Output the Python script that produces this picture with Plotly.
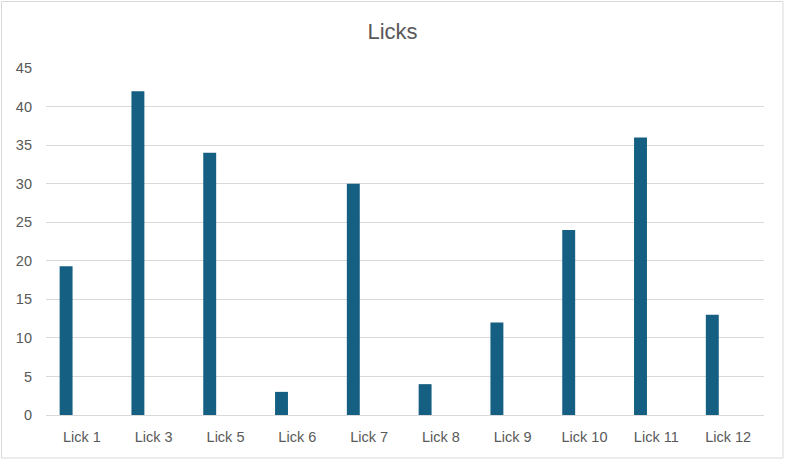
import plotly.graph_objects as go

categories = ["Lick 1", "Lick 3", "Lick 5", "Lick 6", "Lick 7", "Lick 8", "Lick 9", "Lick 10", "Lick 11", "Lick 12"]
values = [19.3, 42, 34, 3, 30, 4, 12, 24, 36, 13]
y_ticks = [0, 5, 10, 15, 20, 25, 30, 35, 40, 45]

W, H = 785, 460
L, R, T, B = 46, 21, 68, 45
pw, ph = W - L - R, H - T - B

fig = go.Figure()
fig.add_trace(go.Bar(
    x=categories, y=values,
    marker=dict(color="#156082", line=dict(width=0)),
    width=0.18, offset=-0.31,
    hoverinfo="x+y",
))

font_family = "Liberation Sans, Arial, sans-serif"

def px_x(p):
    return (p - L) / pw

def px_y(p):
    return (H - B - p) / ph

fig.update_layout(
    width=W, height=H,
    margin=dict(l=L, r=R, t=T, b=B),
    paper_bgcolor="white", plot_bgcolor="white",
    showlegend=False,
    font=dict(family=font_family, size=14.5, color="#595959"),
    title=dict(text="Licks", x=0.5, xanchor="center", y=1 - 31 / H, yanchor="middle",
               yref="container", font=dict(size=22, color="#595959", family=font_family)),
    xaxis=dict(
        type="category", showgrid=False, showline=True, linecolor="#d9d9d9", linewidth=1,
        ticks="", ticklabelstandoff=9, tickfont=dict(size=14.5, color="#595959"),
        range=[-0.5, len(categories) - 0.5], fixedrange=True,
    ),
    yaxis=dict(
        range=[0, 45], tickvals=y_ticks, showgrid=True, gridcolor="#d9d9d9", gridwidth=1,
        zeroline=False, showline=False, ticks="", ticklabelstandoff=13,
        tickfont=dict(size=14.5, color="#595959"), fixedrange=True,
    ),
    shapes=[dict(
        type="rect", xref="paper", yref="paper",
        x0=px_x(1.5), x1=px_x(783), y0=px_y(458), y1=px_y(1.5),
        line=dict(color="#d9d9d9", width=1), fillcolor="rgba(0,0,0,0)", layer="below",
    )],
)

fig.write_html("out.html", config={"displayModeBar": False},
               post_script="document.body.style.margin='0';")
